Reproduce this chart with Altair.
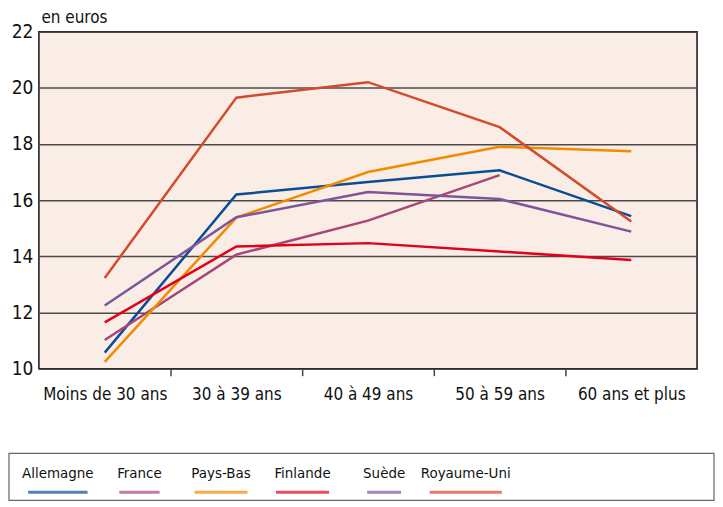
import altair as alt
import pandas as pd

ages = ["Moins de 30 ans", "30 à 39 ans", "40 à 49 ans", "50 à 59 ans", "60 ans et plus"]
countries = ["Allemagne", "France", "Pays-Bas", "Finlande", "Suède", "Royaume-Uni"]
colors = ["#0B4C98", "#A8457A", "#F28A00", "#E2001A", "#7E559B", "#D5492C"]

allemagne = [10.57, 16.2, 16.65, 17.06, 15.43]
france = [11.02, 14.06, 15.27, 16.89, None]
pays_bas = [10.24, 15.38, 17.0, 17.9, 17.74]
finlande = [11.65, 14.35, 14.47, 14.17, 13.87]
suede = [12.25, 15.39, 16.29, 16.04, 14.88]
royaume_uni = [13.23, 19.65, 20.2, 18.6, 15.24]

series = [allemagne, france, pays_bas, finlande, suede, royaume_uni]
rows = []
for c, vals in zip(countries, series):
    for a, v in zip(ages, vals):
        if v is not None:
            rows.append({"pays": c, "age": a, "valeur": v})
df = pd.DataFrame(rows)

FONT = "DejaVu Sans Condensed"
INK = "#111111"
color_scale = alt.Scale(domain=countries, range=colors)

lines = alt.Chart(df).mark_line(strokeWidth=2.5).encode(
    x=alt.X("age:N", sort=ages, title=None,
            scale=alt.Scale(paddingInner=0, paddingOuter=0),
            axis=alt.Axis(labelAngle=0, labelFontSize=17, labelFont=FONT, labelColor=INK,
                          labelPadding=11, tickSize=7, tickColor="#444444", tickWidth=1.5,
                          tickOffset=66, labelOffset=-66,
                          tickOpacity={"condition": {"test": "datum.value === '60 ans et plus'", "value": 0}, "value": 1},
                          domain=False, grid=False)),
    y=alt.Y("valeur:Q", title="en euros",
            scale=alt.Scale(domain=[10, 22], nice=False, zero=False),
            axis=alt.Axis(values=[10, 12, 14, 16, 18, 20, 22], labelFontSize=19, labelFont=FONT,
                          labelColor=INK, ticks=False, labelPadding=6, domain=False,
                          grid=True, gridColor="#4a4a4a", gridWidth=1.5,
                          titleAngle=0, titleAlign="left", titleBaseline="bottom", titleX=2, titleY=-5,
                          titleFont=FONT, titleFontSize=17, titleFontWeight="normal", titleColor=INK)),
    color=alt.Color("pays:N", sort=countries, scale=color_scale, legend=None),
)

# legend drawn below the plot area
leg_df = pd.DataFrame({"pays": countries})
leg_base = alt.Chart(leg_df)
leg_x = alt.X("pays:N", sort=countries, axis=None,
              scale=alt.Scale(type="point", range=[19, 428], padding=0))
leg_frame = alt.Chart(pd.DataFrame({"k": [0]})).mark_rect(
    fill="white", stroke="#666666", strokeWidth=1.2).encode(
    x=alt.value(-30), x2=alt.value(677), y=alt.value(423), y2=alt.value(470))
leg_text = leg_base.mark_text(font=FONT, fontSize=15, color=INK).encode(
    x=leg_x, y=alt.value(443), text="pays:N")
leg_line = leg_base.transform_calculate(w="length(datum.pays) * 6.4 + 2").mark_tick(
    orient="horizontal", thickness=3).encode(
    x=leg_x, y=alt.value(462), size=alt.Size("w:Q", scale=None, legend=None),
    color=alt.Color("pays:N", scale=color_scale, legend=None))

chart = alt.layer(lines, leg_frame, leg_text, leg_line).resolve_scale(x="independent").properties(
    width=660, height=338, padding=0, background="white"
).configure_view(fill="#FAEDE5", stroke=INK, strokeWidth=1.5)

chart.save("out.html", embed_options={"renderer": "svg", "actions": False})
